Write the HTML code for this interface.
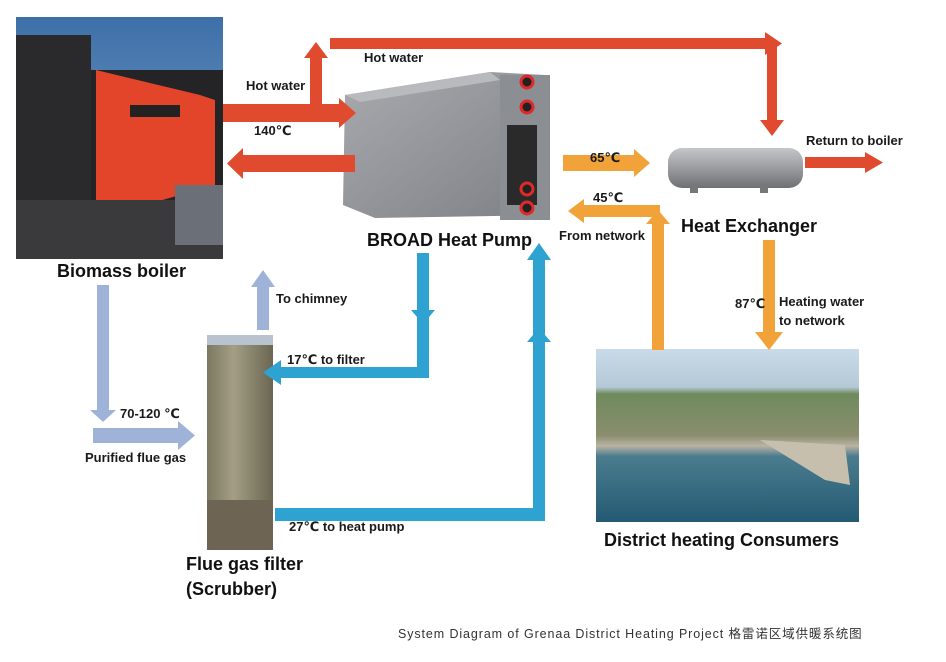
<!DOCTYPE html>
<html><head><meta charset="utf-8"><style>
html,body{margin:0;padding:0;background:#fff;}
svg{display:block;font-family:"Liberation Sans","DejaVu Sans",sans-serif;font-weight:bold;}
</style></head><body>
<svg width="946" height="662" viewBox="0 0 946 662" xmlns="http://www.w3.org/2000/svg">
<defs>
<linearGradient id="sky" x1="0" y1="0" x2="0" y2="1"><stop offset="0" stop-color="#3d6fa8"/><stop offset="1" stop-color="#86a9cc"/></linearGradient>
<linearGradient id="hp" x1="0" y1="0" x2="1" y2="1"><stop offset="0" stop-color="#a8aaae"/><stop offset="1" stop-color="#7d8086"/></linearGradient>
<linearGradient id="cyl" x1="0" y1="0" x2="0" y2="1"><stop offset="0" stop-color="#c4c6ca"/><stop offset="0.5" stop-color="#9a9ca0"/><stop offset="1" stop-color="#6e7074"/></linearGradient>
<linearGradient id="scr" x1="0" y1="0" x2="1" y2="0"><stop offset="0" stop-color="#7c7862"/><stop offset="0.4" stop-color="#a39e84"/><stop offset="1" stop-color="#6a6652"/></linearGradient>
<linearGradient id="town" x1="0" y1="0" x2="0" y2="1"><stop offset="0" stop-color="#c9dbe9"/><stop offset="0.22" stop-color="#b4c9d6"/><stop offset="0.26" stop-color="#6f8a5c"/><stop offset="0.5" stop-color="#8a8e6e"/><stop offset="0.56" stop-color="#b9b3a3"/><stop offset="0.62" stop-color="#4b7c8e"/><stop offset="1" stop-color="#235a73"/></linearGradient>
</defs>
<rect width="946" height="662" fill="#fff"/>
<!-- Boiler photo -->
<rect x="16" y="17" width="207" height="242" fill="url(#sky)"/>
<rect x="16" y="35" width="75" height="224" fill="#2a2a2c"/>
<rect x="91" y="70" width="132" height="189" fill="#242426"/>
<polygon points="96,70 200,95 215,100 215,185 110,215 96,200" fill="#e2452a"/>
<rect x="130" y="105" width="50" height="12" fill="#222"/>
<rect x="16" y="200" width="207" height="59" fill="#3a3a3d"/>
<rect x="175" y="185" width="48" height="60" fill="#6b6f77"/>
<!-- Heat pump -->
<polygon points="345,95 490,72 545,75 550,215 375,218 343,205" fill="url(#hp)"/>
<polygon points="345,95 490,72 500,80 360,102" fill="#b8babd"/>
<rect x="500" y="75" width="50" height="145" fill="#8b8e93"/>
<rect x="507" y="125" width="30" height="80" fill="#2a2a2a"/>
<circle cx="527" cy="82" r="6" fill="#222" stroke="#e02a2a" stroke-width="3"/>
<circle cx="527" cy="107" r="6" fill="#222" stroke="#e02a2a" stroke-width="3"/>
<circle cx="527" cy="189" r="6" fill="#222" stroke="#e02a2a" stroke-width="3"/>
<circle cx="527" cy="208" r="6" fill="#222" stroke="#e02a2a" stroke-width="3"/>
<!-- Heat exchanger -->
<rect x="668" y="148" width="135" height="40" rx="14" fill="url(#cyl)"/>
<rect x="690" y="185" width="8" height="8" fill="#777"/><rect x="760" y="185" width="8" height="8" fill="#777"/>
<!-- Scrubber -->
<rect x="207" y="335" width="66" height="215" fill="url(#scr)"/>
<rect x="207" y="335" width="66" height="10" fill="#b7c4cf"/>
<rect x="207" y="500" width="66" height="50" fill="#6d6454"/>
<!-- Town photo -->
<rect x="596" y="349" width="263" height="173" fill="url(#town)"/>
<polygon points="760,440 845,445 850,485 825,480" fill="#c7bfae"/>
<!-- Red arrows -->
<g fill="#e04a2f">
<rect x="223" y="104" width="116" height="18"/><polygon points="339,98 356,113 339,128"/>
<rect x="310" y="55" width="12" height="55"/><polygon points="304,58 316,42 328,58"/>
<rect x="330" y="38" width="437" height="11"/><polygon points="765,32 782,43.5 765,55"/>
<rect x="767" y="44" width="10" height="78"/><polygon points="760,120 772,136 784,120"/>
<rect x="242" y="155" width="113" height="17"/><polygon points="243,148 227,163.5 243,179"/>
<rect x="805" y="157" width="62" height="11"/><polygon points="865,152 883,162.5 865,173"/>
</g>
<!-- Orange -->
<g fill="#f1a33a">
<rect x="563" y="155" width="72" height="16"/><polygon points="634,149 650,163 634,177"/>
<rect x="582" y="205" width="78" height="12"/><polygon points="584,199 568,211 584,223"/>
<rect x="652" y="222" width="12" height="128"/><polygon points="646,224 658,210 670,224"/>
<rect x="763" y="240" width="12" height="95"/><polygon points="755,332 769,350 783,332"/>
</g>
<!-- Blue -->
<g fill="#2ea3d2">
<rect x="417" y="253" width="12" height="125"/><polygon points="411,310 423,324 435,310"/>
<rect x="275" y="367" width="154" height="11"/><polygon points="281,360 263,372.5 281,385"/>
<rect x="275" y="508" width="270" height="13"/>
<rect x="533" y="258" width="12" height="263"/><polygon points="527,260 539,243 551,260"/><polygon points="527,342 539,328 551,342"/>
</g>
<!-- Light blue -->
<g fill="#9fb3d8">
<rect x="97" y="285" width="12" height="130"/><polygon points="90,410 103,422 116,410"/>
<rect x="93" y="428" width="88" height="15"/><polygon points="178,421 195,435.5 178,450"/>
<rect x="257" y="285" width="12" height="45"/><polygon points="251,287 263,270 275,287"/>
</g>
<!-- Labels -->
<g fill="#1a1a1a" font-size="13">
<text x="246" y="90">Hot water</text>
<text x="254" y="135">140℃</text>
<text x="364" y="62">Hot water</text>
<text x="276" y="303">To chimney</text>
<text x="287" y="364">17℃ to filter</text>
<text x="289" y="531">27℃ to heat pump</text>
<text x="120" y="418">70-120 ℃</text>
<text x="85" y="462">Purified flue gas</text>
<text x="590" y="162">65℃</text>
<text x="593" y="202">45℃</text>
<text x="559" y="240">From network</text>
<text x="806" y="145">Return to boiler</text>
<text x="735" y="308">87℃</text>
<text x="779" y="306">Heating water</text>
<text x="779" y="325">to network</text>
</g>
<g fill="#111" font-size="18">
<text x="57" y="277">Biomass boiler</text>
<text x="367" y="246">BROAD Heat Pump</text>
<text x="681" y="232">Heat Exchanger</text>
<text x="604" y="546">District heating Consumers</text>
<text x="186" y="570">Flue gas filter</text>
<text x="186" y="595">(Scrubber)</text>
</g>
<text x="398" y="638" font-size="12.5" font-weight="normal" fill="#333" font-family="Liberation Sans,Noto Sans CJK SC,sans-serif" letter-spacing="0.9">System Diagram of Grenaa District Heating Project  格雷诺区域供暖系统图</text>
</svg>
</body></html>
